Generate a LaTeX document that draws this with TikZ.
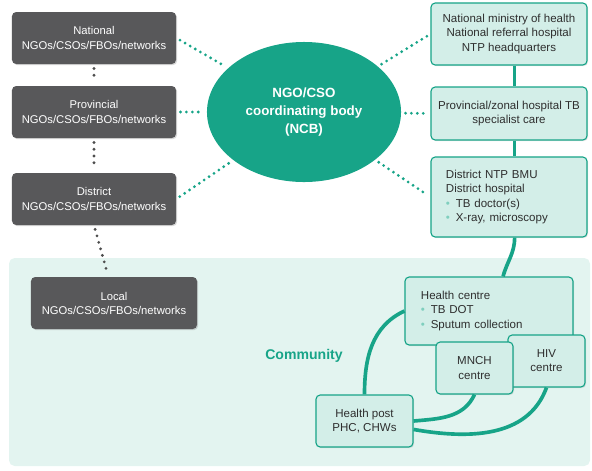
\documentclass[tikz,border=0pt]{standalone}
\usepackage{fontspec}
\setmainfont{Liberation Sans}
\usetikzlibrary{shapes.geometric,shadows}
\definecolor{ncbteal}{HTML}{17A488}
\definecolor{boxfill}{HTML}{D3EEE8}
\definecolor{commfill}{HTML}{E3F4F0}
\definecolor{ngogray}{HTML}{58585A}
\definecolor{dotgray}{HTML}{4D4D4D}
\definecolor{txtgray}{HTML}{2E2E2E}
\definecolor{bulletteal}{HTML}{7FCFBE}
\newcommand\tbbullet{{\color{bulletteal}\textbullet}\enspace}

\begin{document}
\begin{tikzpicture}[x=0.025cm,y=0.025cm,
    ngobox/.style={fill=ngogray,rounded corners=3pt,text=white,align=center,
      minimum width=4.1cm,minimum height=1.3cm,font=\fontsize{8}{10}\selectfont,
      drop shadow={opacity=.3,shadow xshift=.8pt,shadow yshift=-.8pt}},
    hbox/.style={draw=ncbteal,line width=.8pt,fill=boxfill,rounded corners=3pt,text=txtgray,
      font=\fontsize{8.2}{10}\selectfont,
      drop shadow={opacity=.2,shadow xshift=.8pt,shadow yshift=-.8pt}},
    greendots/.style={ncbteal,line width=2.2pt,line cap=round,dash pattern=on 0pt off 4.2pt,
      shorten <=3pt,shorten >=3pt},
    graydots/.style={dotgray,line width=2.2pt,line cap=round,dash pattern=on 0pt off 4.8pt,
      shorten <=3pt,shorten >=3pt},
    tealline/.style={ncbteal,line width=2.6pt}]
  \useasboundingbox (0,0) rectangle (592,-470);
  % community area
  \fill[commfill,rounded corners=4pt] (9,-258) rectangle (590,-466);
  \node[font=\fontsize{10}{12}\selectfont\bfseries,text=ncbteal] (comm) at (304,-356) {Community};

  % NGO side
  \node[ngobox] (nat) at (94,-38) {National\\NGOs/CSOs/FBOs/networks};
  \node[ngobox] (prov) at (94,-112) {Provincial\\NGOs/CSOs/FBOs/networks};
  \node[ngobox] (dist) at (94,-199) {District\\NGOs/CSOs/FBOs/networks};
  \node[ngobox,minimum width=4.15cm] (loc) at (114,-303) {Local\\NGOs/CSOs/FBOs/networks};
  \foreach \a/\b in {nat/prov,prov/dist} \draw[graydots] (\a.south) -- (\b.north);
  \draw[graydots] (dist.south) -- ([xshift=-4pt]loc.north);

  % coordinating body
  \node[ellipse,fill=ncbteal,minimum width=4.85cm,minimum height=3.5cm,inner sep=0pt,
    text=white,align=center,font=\fontsize{9.5}{12.5}\selectfont\bfseries] (ncb) at (304,-112)
    {NGO/CSO\\coordinating body\\(NCB)};

  % health system side
  \node[hbox,align=center,minimum width=3.9cm,minimum height=1.55cm] (moh) at (509,-34)
    {National ministry of health\\National referral hospital\\NTP headquarters};
  \node[hbox,align=center,minimum width=3.9cm,minimum height=1.325cm] (zonal) at (509,-113.5)
    {Provincial/zonal hospital TB\\specialist care};
  \node[hbox,align=left,text width=3.15cm,inner xsep=.375cm,minimum height=2cm] (dhosp) at (509,-197)
    {District NTP BMU\\District hospital\\\tbbullet TB doctor(s)\\\tbbullet X-ray, microscopy};
  \node[hbox,align=left,text width=3.4cm,inner xsep=.4cm,minimum height=1.7cm] (hc) at (489,-311)
    {Health centre\\\tbbullet TB DOT\\\tbbullet Sputum collection};
  \node[hbox,align=center,minimum width=1.925cm,minimum height=1.3cm] (hiv) at (546.5,-361) {HIV\\centre};
  \node[hbox,align=center,minimum width=1.925cm,minimum height=1.3cm] (mnch) at (474.5,-368) {MNCH\\centre};
  \node[hbox,align=center,minimum width=2.425cm,minimum height=1.3cm] (hp) at (364.5,-421) {Health post\\PHC, CHWs};

  \draw[tealline] ([xshift=4pt]moh.south) -- ([xshift=4pt]zonal.north);
  \draw[tealline] ([xshift=4pt]zonal.south) -- ([xshift=4pt]dhosp.north);
  \draw[tealline] ([xshift=4pt]dhosp.south) to[out=-90,in=75] ([xshift=10pt]hc.north);
  \draw[tealline] (hc.west) to[out=205,in=90] (hp.north);
  \draw[tealline] (hp.east) to[out=5,in=-115] (mnch.south);
  \draw[tealline] ([yshift=-6pt]hp.east) to[out=-10,in=-110] (hiv.south);

  % links to the NCB
  \foreach \b in {nat,prov,dist} \draw[greendots] (\b.east) -- (ncb);
  \foreach \b in {moh,zonal,dhosp} \draw[greendots] (ncb) -- (\b.west);
\end{tikzpicture}
\end{document}
